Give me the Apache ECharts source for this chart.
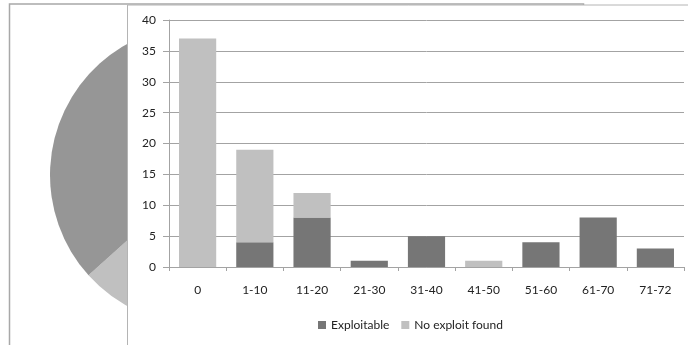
<!DOCTYPE html>
<html>
<head>
<meta charset="utf-8">
<script src="https://cdn.jsdelivr.net/npm/echarts@6/dist/echarts.min.js"></script>
<style>html,body{margin:0;padding:0;background:#fff;}#c{width:688px;height:345px;}</style>
</head>
<body>
<div id="c"></div>
<script>
const categories = ['0', '1-10', '11-20', '21-30', '31-40', '41-50', '51-60', '61-70', '71-72'];
const exploitable = [0, 4, 8, 1, 5, 0, 4, 8, 3];
const noExploit = [37, 15, 4, 0, 0, 1, 0, 0, 0];
const yTicks = { min: 0, max: 40, interval: 5 };
const pieNames = ['No exploit found', 'Exploitable'];
const pieValues = [57, 33];

const FONT = 'Lato, "Open Sans", sans-serif';
const chart = echarts.init(document.getElementById('c'), null, { renderer: 'canvas' });
chart.setOption({
  backgroundColor: '#fff',
  animation: false,
  graphic: [
    { type: 'rect', zlevel: 0, z: 0, shape: { x: 9.5, y: 4, width: 574, height: 400 },
      style: { fill: '#fff', stroke: '#a8a8a8', lineWidth: 1.5 } },
    { type: 'rect', zlevel: 1, z: 0, shape: { x: 127.5, y: 5, width: 600, height: 400 },
      style: { fill: '#fff', stroke: '#b4b4b4', lineWidth: 1 } }
  ],
  grid: { left: 169, right: 4, top: 20, bottom: 78, zlevel: 1, z: 1 },
  legend: {
    zlevel: 1, z: 5,
    data: ['Exploitable', 'No exploit found'],
    left: 318, top: 319, padding: 0,
    icon: 'rect', itemWidth: 8, itemHeight: 8, itemGap: 12,
    textStyle: { fontFamily: FONT, fontSize: 12, color: '#222' }
  },
  xAxis: {
    type: 'category', data: categories, zlevel: 1, z: 2,
    axisLine: { lineStyle: { color: '#a3a3a3' } },
    axisTick: { show: true, length: 4, lineStyle: { color: '#a3a3a3' } },
    axisLabel: { fontFamily: FONT, fontSize: 12, color: '#222', margin: 17 }
  },
  yAxis: {
    type: 'value', min: yTicks.min, max: yTicks.max, interval: yTicks.interval, zlevel: 1, z: 2,
    axisLine: { show: true, lineStyle: { color: '#a3a3a3' } },
    axisTick: { show: true, length: 6, lineStyle: { color: '#a3a3a3' } },
    splitLine: { lineStyle: { color: '#a3a3a3' } },
    axisLabel: { fontFamily: FONT, fontSize: 12, color: '#222', margin: 13 }
  },
  series: [
    { name: 'Exploitable', type: 'bar', stack: 'a', data: exploitable, barWidth: '65%',
      zlevel: 1, z: 3, itemStyle: { color: '#767676' } },
    { name: 'No exploit found', type: 'bar', stack: 'a', data: noExploit, barWidth: '65%',
      zlevel: 1, z: 3, itemStyle: { color: '#c0c0c0' } },
    { name: 'pie', type: 'pie', zlevel: 0, z: 2, center: [200, 175], radius: 150,
      startAngle: 90, clockwise: true, label: { show: false }, labelLine: { show: false },
      silent: true,
      data: pieNames.map((n, i) => ({ name: n, value: pieValues[i],
        itemStyle: { color: i === 0 ? '#c0c0c0' : '#969696' } })) }
  ]
});
</script>
</body>
</html>
